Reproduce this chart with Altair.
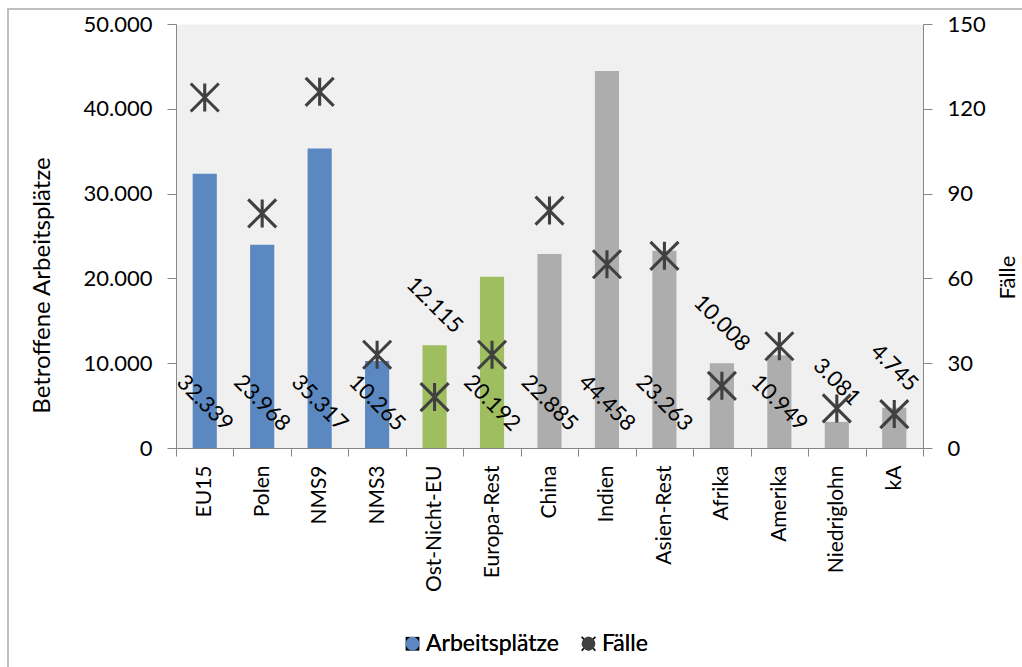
import altair as alt
import pandas as pd

categories = ["EU15", "Polen", "NMS9", "NMS3", "Ost-Nicht-EU", "Europa-Rest", "China",
              "Indien", "Asien-Rest", "Afrika", "Amerika", "Niedriglohn", "kA"]
jobs = [32339, 23968, 35317, 10265, 12115, 20192, 22885, 44458, 23263, 10008, 10949, 3081, 4745]
faelle = [124, 83, 126, 33, 18, 33, 84, 65, 68, 22, 36, 14, 12]
groups = ["EU", "EU", "EU", "EU", "Europa", "Europa", "Welt", "Welt", "Welt", "Welt", "Welt", "Welt", "Welt"]
label_place = ["base", "base", "base", "base", "end", "base", "base", "base", "base", "end", "base", "end", "end"]

df = pd.DataFrame({"cat": categories, "jobs": jobs, "faelle": faelle,
                   "group": groups, "place": label_place})
df["series"] = "Fälle"

FONT = "Lato"
AX = "#868686"
W, H = 747, 424

x_axis = alt.Axis(title=None, labelAngle=-90, labelFontSize=21, labelFont=FONT,
                  labelColor="black", labelPadding=9, tickBand="extent",
                  tickSize=8, tickColor=AX, domainColor=AX, grid=False, zindex=1)
x_enc = alt.X("cat:N", sort=categories,
              scale=alt.Scale(paddingInner=0, paddingOuter=0), axis=x_axis)

y_scale = alt.Scale(domain=[0, 50000])
y_axis = alt.Axis(title="Betroffene Arbeitsplätze", values=[0, 10000, 20000, 30000, 40000, 50000],
                  labelExpr="replace(format(datum.value, ','), ',', '.')",
                  labelFontSize=22, labelFont=FONT, labelColor="black", labelPadding=15,
                  tickSize=9, tickColor=AX, domainColor=AX, grid=False,
                  titleFontSize=24, titleFont=FONT, titleFontWeight="normal",
                  titleColor="black", titlePadding=29, titleY=261, zindex=1)

bars = alt.Chart(df).mark_bar(width=alt.RelativeBandSize(0.42)).encode(
    x=x_enc,
    y=alt.Y("jobs:Q", scale=y_scale, axis=y_axis, title="Betroffene Arbeitsplätze"),
    color=alt.Color("group:N", scale=alt.Scale(domain=["EU", "Europa", "Welt"],
                                               range=["#5b88c1", "#9fbe5f", "#adadad"]),
                    legend=None),
)

lab_base = alt.Chart(df).transform_filter("datum.place == 'base'").transform_calculate(
    lab="replace(format(datum.jobs, ','), ',', '.')"
).mark_text(angle=45, fontSize=22, font=FONT, color="black", align="center",
            baseline="middle", yOffset=-45).encode(
    x=x_enc, y=alt.Y(datum=0, scale=y_scale, axis=y_axis, title="Betroffene Arbeitsplätze"),
    text="lab:N")

lab_end = alt.Chart(df).transform_filter("datum.place == 'end'").transform_calculate(
    lab="replace(format(datum.jobs, ','), ',', '.')"
).mark_text(angle=45, fontSize=22, font=FONT, color="black", align="center",
            baseline="middle", yOffset=-40).encode(
    x=x_enc, y=alt.Y("jobs:Q", scale=y_scale, axis=y_axis, title="Betroffene Arbeitsplätze"),
    text="lab:N")

left = alt.layer(bars, lab_base, lab_end)

# six-armed star drawn as three thin filled bars (vertical + two diagonals)
star = ("M-0.11,-1L0.11,-1L0.11,1L-0.11,1Z"
        "M-0.922,-1.078L1.078,0.922L0.922,1.078L-1.078,-0.922Z"
        "M-1.078,0.922L0.922,-1.078L1.078,-0.922L-0.922,1.078Z")
leg_dom = ["Arbeitsplätze", "Fälle"]
legend = alt.Legend(title=None, orient="none", direction="horizontal", legendX=225, legendY=608,
                    labelFontSize=23, labelFont=FONT, labelColor="black", symbolSize=190,
                    columnPadding=18, labelOffset=2, padding=0)
points = alt.Chart(df).mark_point(filled=True, size=784, opacity=1).encode(
    x=x_enc,
    y=alt.Y("faelle:Q", scale=alt.Scale(domain=[0, 150]),
            axis=alt.Axis(orient="right", title="Fälle", values=[0, 30, 60, 90, 120, 150],
                          labelFontSize=22, labelFont=FONT, labelColor="black", labelPadding=15,
                          tickSize=9, tickColor=AX, domainColor=AX, grid=False,
                          titleFontSize=22, titleFont=FONT, titleFontWeight="normal",
                          titleColor="black", titleAngle=-90, titleBaseline="top",
                          titlePadding=12, titleY=253, zindex=1)),
    shape=alt.Shape("series:N", scale=alt.Scale(domain=leg_dom, range=["square", star]), legend=legend),
    color=alt.Color("series:N", scale=alt.Scale(domain=leg_dom, range=["#5b88c1", "#404040"]), legend=legend),
)

frame = alt.Chart(pd.DataFrame({"a": [1]})).mark_rect(
    fill="transparent", stroke="#bfbfbf", strokeWidth=2, clip=False).encode(
    x=alt.value(8 - 176), y=alt.value(9 - 24), x2=alt.value(W + 300), y2=alt.value(H + 400))

chart = alt.layer(left, points, frame).resolve_scale(
    y="independent", color="independent"
).properties(
    width=W, height=H,
    autosize=alt.AutoSizeParams(type="none"),
    padding={"left": 176, "top": 24, "right": 99, "bottom": 219},
    background="white",
).configure(font=FONT).configure_view(fill="#f0f0f0", stroke="transparent")

chart.save("out.html", embed_options={"renderer": "svg", "actions": False})
